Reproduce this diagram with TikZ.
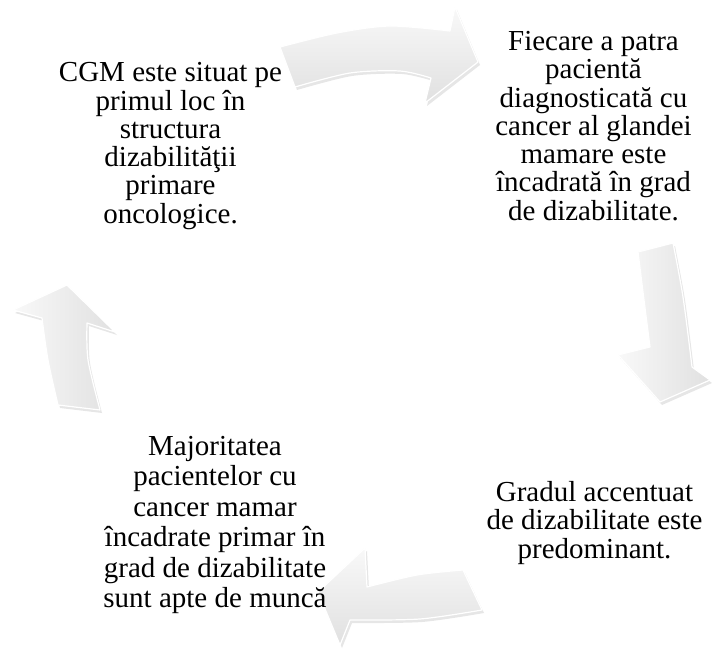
\documentclass[tikz,border=0pt]{standalone}
\usepackage{fontspec}
\setmainfont{Liberation Serif}
\usetikzlibrary{shadows}

\begin{document}
\begin{tikzpicture}[x=1pt,y=-1pt,cyc text/.style={align=center,inner sep=0pt,font=\fontsize{29}{28.3}\selectfont},cyc arrow/.style={draw=white,line width=1.2pt,line join=round,drop shadow={opacity=0.2,shadow xshift=2pt,shadow yshift=-3pt}}]
                \useasboundingbox (0,0) rectangle (712,650);

                % the four curved arrows of the cycle
                \path[cyc arrow,top color=gray!5,bottom color=gray!24]
                    (280,47) -- plot[smooth] coordinates {(280,47) (337,33) (390,26) (450,31)}
                    -- (455,7) -- (478,62) -- (425,103)
                    -- plot[smooth] coordinates {(431,78) (400,71) (350,73) (295,87)} -- cycle;
                \path[cyc arrow,left color=gray!5,right color=gray!24]
                    (673,243) -- plot[smooth] coordinates {(673,243) (683,297) (692,367)}
                    -- (710,380) -- (660,402) -- (618,355)
                    -- plot[smooth] coordinates {(650,347) (644,300) (638,252)} -- cycle;
                \path[cyc arrow,top color=gray!5,bottom color=gray!24]
                    (482,610) -- plot[smooth] coordinates {(482,610) (420,619) (350,620)}
                    -- (340,645) -- (318,592) -- (365,548)
                    -- plot[smooth] coordinates {(367,587) (417,575) (463,570)} -- cycle;
                \path[cyc arrow,left color=gray!5,right color=gray!24]
                    (58,405) -- plot[smooth] coordinates {(58,405) (48,360) (42,318)}
                    -- (13,310) -- (67,285) -- (115,332)
                    -- plot[smooth] coordinates {(87,323) (88,360) (100,410)} -- cycle;

                % texts
                \node[cyc text] (tl) at (170.5,146) {CGM este situat pe\\primul loc în\\structura\\dizabilităţii\\primare\\oncologice.};
                \node[cyc text] (tr) at (593.5,126) {Fiecare a patra\\pacientă\\diagnosticată cu\\cancer al glandei\\mamare este\\încadrată în grad\\de dizabilitate.};
                \node[cyc text] (br) at (594.5,523) {Gradul accentuat\\de dizabilitate este\\predominant.};
                \node[cyc text,font=\fontsize{29}{30.4}\selectfont] (bl) at (215,525) {Majoritatea\\pacientelor cu\\cancer mamar\\încadrate primar în\\grad de dizabilitate\\sunt apte de muncă};
\end{tikzpicture}
\end{document}
